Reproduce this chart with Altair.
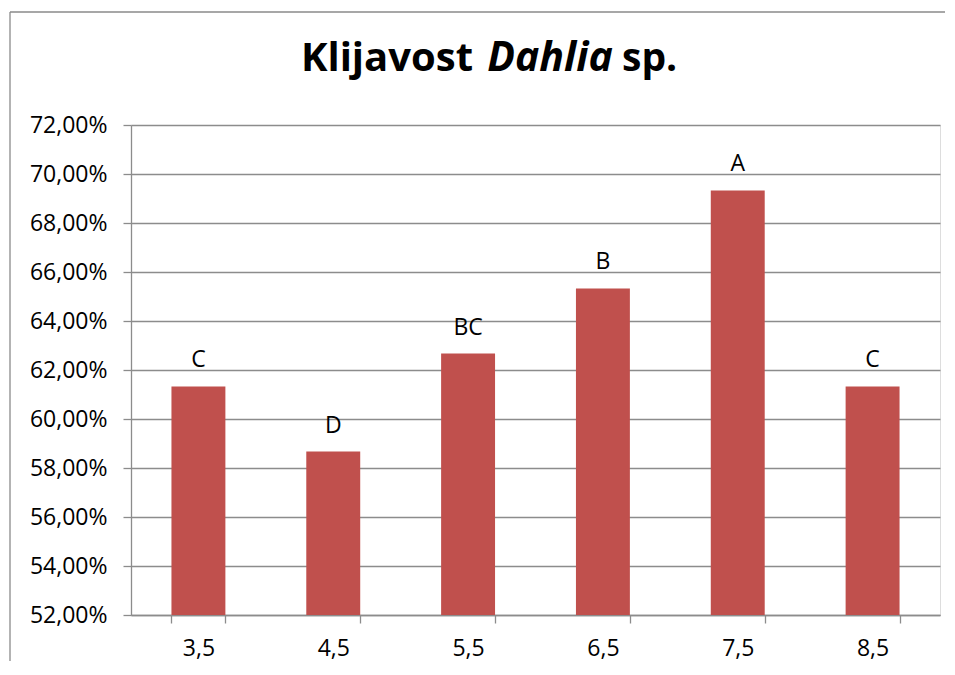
import altair as alt
import pandas as pd

categories = ["3,5", "4,5", "5,5", "6,5", "7,5", "8,5"]
values = [0.6133, 0.5867, 0.6267, 0.6533, 0.6933, 0.6133]
letters = ["C", "D", "BC", "B", "A", "C"]
y_ticks = [0.52, 0.54, 0.56, 0.58, 0.60, 0.62, 0.64, 0.66, 0.68, 0.70, 0.72]

df = pd.DataFrame({"cat": categories, "val": values, "lab": letters})
one = pd.DataFrame({"k": [0]})

FONT = "Open Sans"
GRID = "#8c8c8c"

x_enc = alt.X("cat:N", sort=categories, title=None,
              scale=alt.Scale(paddingInner=0.6, paddingOuter=0.3),
              axis=alt.Axis(labelAngle=0, tickBand="extent", tickSize=8,
                            labelPadding=14, labelFontSize=23, labelFont=FONT,
                            labelColor="#000000", domainColor=GRID, tickColor=GRID,
                            domainWidth=1.3, tickWidth=1.3, grid=False))
y_enc = alt.Y("val:Q", title=None,
              scale=alt.Scale(domain=[0.52, 0.72], zero=False, nice=False),
              axis=alt.Axis(values=y_ticks, tickSize=8, labelPadding=16,
                            labelFontSize=23, labelFont=FONT, labelColor="#000000",
                            labelExpr="replace(format(datum.value, '.2%'), '.', ',')",
                            domainColor=GRID, tickColor=GRID, gridColor=GRID,
                            domainWidth=1.3, tickWidth=1.3, gridWidth=1.3))

bars = alt.Chart(df).mark_bar(color="#C0504D").encode(
    x=x_enc, y=y_enc, y2=alt.datum(0.52))
labels = alt.Chart(df).mark_text(font=FONT, fontSize=23, baseline="alphabetic",
                                 dy=-19, color="#000000").encode(
    x=alt.X("cat:N", sort=categories), y="val:Q", text="lab:N")

t1 = alt.Chart(one).mark_text(text="Klijavost", font=FONT, fontSize=40,
                              fontWeight="bold", align="right",
                              baseline="alphabetic", color="#000000").encode(
    x=alt.value(342), y=alt.value(-54))
t2 = alt.Chart(one).mark_text(text="Dahlia", font=FONT, fontSize=41,
                              fontWeight="bold", fontStyle="italic", align="center",
                              baseline="alphabetic", color="#000000").encode(
    x=alt.value(419), y=alt.value(-54))
t3 = alt.Chart(one).mark_text(text="sp.", font=FONT, fontSize=39,
                              fontWeight="bold", align="left",
                              baseline="alphabetic", color="#000000").encode(
    x=alt.value(491), y=alt.value(-54))

border_v = alt.Chart(one).mark_rule(color="#8a8a8a", strokeWidth=1.3).encode(
    x=alt.value(-121), x2=alt.value(-121), y=alt.value(-113), y2=alt.value(536))
border_h = alt.Chart(one).mark_rule(color="#8a8a8a", strokeWidth=1.3).encode(
    x=alt.value(-121), x2=alt.value(814), y=alt.value(-113), y2=alt.value(-113))

chart = alt.layer(bars, labels, t1, t2, t3, border_v, border_h).properties(
    width=809, height=490,
    autosize=alt.AutoSizeParams(type="none"),
    padding={"left": 123, "top": 117, "right": 7, "bottom": 48},
).configure_view(stroke=None).configure(background="white")

chart.save("out.html", embed_options={"renderer": "svg", "actions": False})
